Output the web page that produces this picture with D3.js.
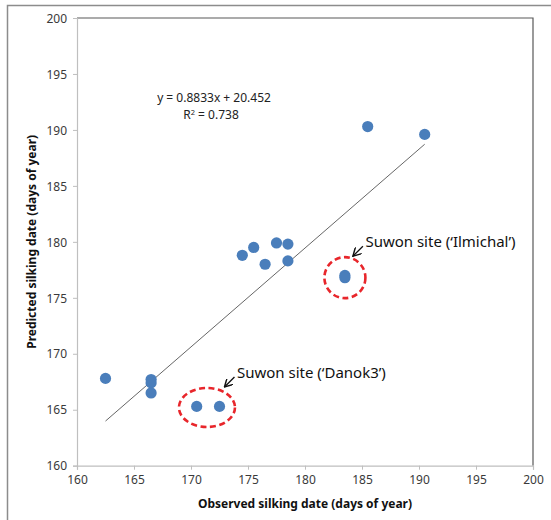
<!DOCTYPE html>
<html>
<head>
<meta charset="utf-8">
<script src="https://cdn.jsdelivr.net/npm/d3@7"></script>
<style>
  body { margin: 0; background: #fff; }
  svg text { font-family: "Noto Sans", "Open Sans", sans-serif; }
</style>
</head>
<body>
<div id="chart"></div>
<script>
let observed = [162.5, 166.5, 166.5, 166.5, 170.5, 172.5, 174.5, 175.5, 176.5, 177.5, 178.5, 178.5, 183.5, 183.5, 185.5, 190.5]
let predicted = [167.8, 167.7, 167.4, 166.5, 165.3, 165.3, 178.8, 179.5, 178.0, 179.9, 179.8, 178.3, 177.0, 176.8, 190.3, 189.6]

let xTicks = [160, 165, 170, 175, 180, 185, 190, 195, 200]
let yTicks = [160, 165, 170, 175, 180, 185, 190, 195, 200]

let slope = 0.8833
let intercept = 20.452
let rSquared = 0.738
let fitRange = [162.5, 190.5]

let siteLabels = ["Suwon site (\u2018Danok3\u2019)", "Suwon site (\u2018Ilmichal\u2019)"]
let siteCenters = [[171.4, 165.2], [183.5, 176.8]]

let width = 551
let height = 520
let plot = {left: 77, right: 533, top: 18, bottom: 465.7}

let svg = d3.select("#chart").append("svg")
    .attr("width", width)
    .attr("height", height)

// outer frame (cropped at right/bottom in the original)
svg.append("rect")
    .attr("x", 7.5).attr("y", 5.5)
    .attr("width", 560).attr("height", 540)
    .attr("fill", "none")
    .attr("stroke", "#8c8c8c")
    .attr("stroke-width", 1.5)

let x = d3.scaleLinear().domain([160, 200]).range([plot.left, plot.right])
let y = d3.scaleLinear().domain([160, 200]).range([plot.bottom, plot.top])

// plot border, top and right are dark
svg.append("path")
    .attr("d", `M${plot.left},${plot.top}H${plot.right}V${plot.bottom}`)
    .attr("fill", "none")
    .attr("stroke", "#595959")
    .attr("stroke-width", 1.2)

let xAxis = svg.append("g")
    .attr("transform", `translate(0,${plot.bottom})`)
    .call(d3.axisBottom(x).tickValues(xTicks).tickSize(4).tickPadding(6).tickFormat(d3.format("d")))
let yAxis = svg.append("g")
    .attr("transform", `translate(${plot.left},0)`)
    .call(d3.axisLeft(y).tickValues(yTicks).tickSize(4).tickPadding(6).tickFormat(d3.format("d")))

for (let ax of [xAxis, yAxis]) {
    ax.select(".domain").attr("stroke", "#bfbfbf").attr("stroke-width", 1.2)
    ax.selectAll(".tick line").attr("stroke", "#bfbfbf")
    ax.selectAll(".tick text")
        .attr("fill", "#3a3a3a")
        .style("font-size", "12px")
}
yAxis.selectAll(".tick text").attr("dy", "0.35em")

// trend line
svg.append("line")
    .attr("x1", x(fitRange[0])).attr("y1", y(slope * fitRange[0] + intercept))
    .attr("x2", x(fitRange[1])).attr("y2", y(slope * fitRange[1] + intercept))
    .attr("stroke", "#666")
    .attr("stroke-width", 1)

// points
svg.append("g").selectAll("circle")
    .data(observed.map((d, i) => [d, predicted[i]]))
    .join("circle")
    .attr("cx", d => x(d[0]))
    .attr("cy", d => y(d[1]))
    .attr("r", 5.6)
    .attr("fill", "#4a7ebb")

// equation
svg.append("text")
    .attr("x", 214).attr("y", 101.5)
    .attr("text-anchor", "middle")
    .attr("fill", "#222")
    .style("font-size", "12px")
    .text(`y = ${slope}x + ${intercept}`)
let r2 = svg.append("text")
    .attr("x", 211).attr("y", 118.5)
    .attr("text-anchor", "middle")
    .attr("fill", "#222")
    .style("font-size", "12px")
r2.append("tspan").text("R")
r2.append("tspan").attr("dy", -4).style("font-size", "7.5px").text("2")
r2.append("tspan").attr("dy", 4).text(` = ${rSquared}`)

// site annotations
svg.append("defs").append("marker")
    .attr("id", "arrow")
    .attr("viewBox", "0 0 10 10")
    .attr("refX", 9).attr("refY", 5)
    .attr("markerWidth", 9).attr("markerHeight", 9)
    .attr("markerUnits", "userSpaceOnUse")
    .attr("orient", "auto")
    .append("path")
    .attr("d", "M0,0L9,5L0,10")
    .attr("fill", "none")
    .attr("stroke", "#111")
    .attr("stroke-width", 1.6)

let ellipseR = [[28, 19.5], [20.5, 20.5]]
let labelOffset = [[30, -29.5], [20.5, -30.5]]

siteCenters.forEach((c, i) => {
    let cx = x(c[0]), cy = y(c[1])
    svg.append("ellipse")
        .attr("cx", cx).attr("cy", cy)
        .attr("rx", ellipseR[i][0]).attr("ry", ellipseR[i][1])
        .attr("fill", "none")
        .attr("stroke", "#e8262b")
        .attr("stroke-width", 2.6)
        .attr("stroke-dasharray", "6,3.5")
    let tx = cx + labelOffset[i][0], ty = cy + labelOffset[i][1]
    svg.append("line")
        .attr("x1", tx - 2.5).attr("y1", ty - 1)
        .attr("x2", tx - 12.5).attr("y2", ty + 9)
        .attr("stroke", "#111")
        .attr("stroke-width", 1.3)
        .attr("marker-end", "url(#arrow)")
    svg.append("text")
        .attr("x", tx).attr("y", ty)
        .attr("fill", "#111")
        .style("font-size", "15px")
        .text(siteLabels[i])
})

// axis titles
svg.append("text")
    .attr("x", (plot.left + plot.right) / 2)
    .attr("y", 508)
    .attr("text-anchor", "middle")
    .style("font-size", "12px")
    .style("font-weight", "bold")
    .attr("fill", "#111")
    .text("Observed silking date (days of year)")

svg.append("text")
    .attr("transform", `translate(36,${(plot.top + plot.bottom) / 2}) rotate(-90)`)
    .attr("text-anchor", "middle")
    .style("font-size", "12px")
    .style("font-weight", "bold")
    .attr("fill", "#111")
    .text("Predicted silking date (days of year)")
</script>
</body>
</html>
